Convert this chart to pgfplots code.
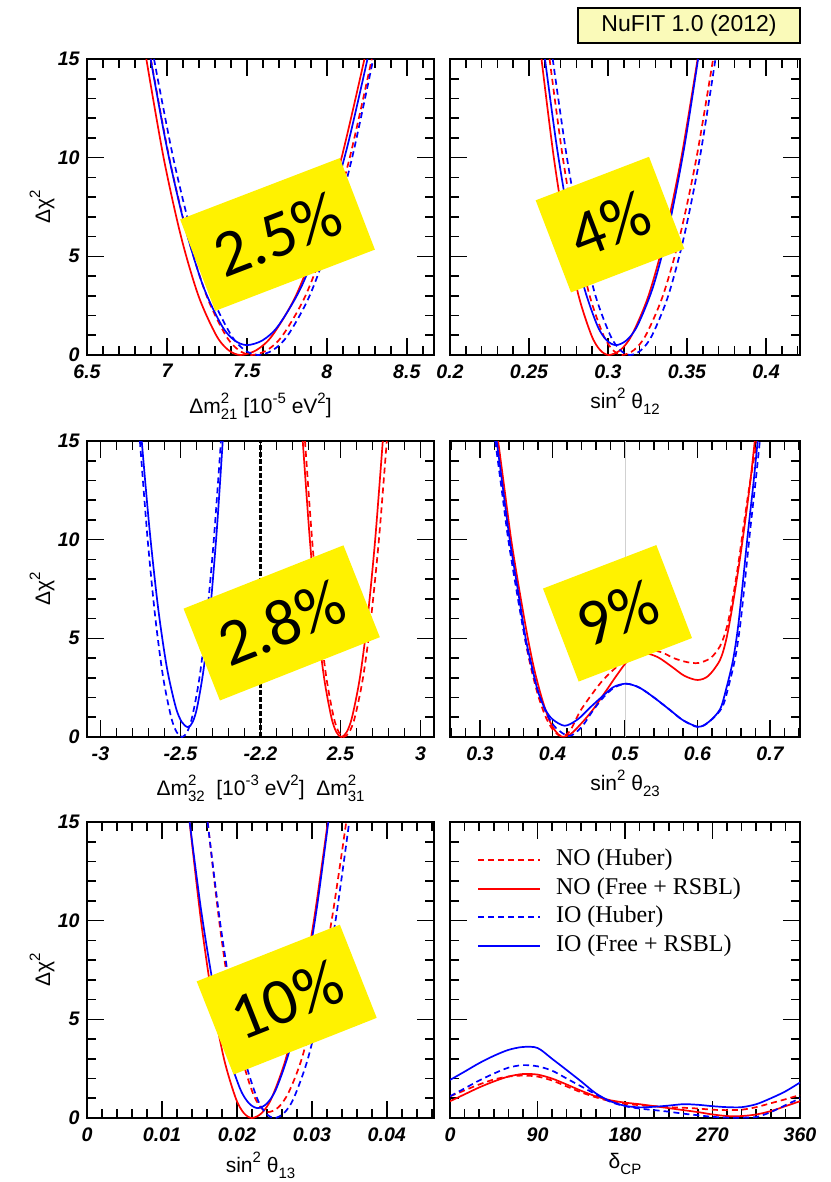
\documentclass[border=0pt]{standalone}
\usepackage{pgfplots}
\pgfplotsset{compat=1.18}
\usepackage{fontspec}
\setmainfont{Liberation Sans}
\newfontfamily\legfont{Liberation Serif}
\newfontfamily\calfont{Carlito}
\definecolor{nured}{RGB}{255,0,0}
\definecolor{nublue}{RGB}{0,0,255}
\definecolor{nufitbg}{RGB}{250,250,185}
\newcommand\scr[1]{{\fontsize{7.5}{8}\selectfont #1}}
\newcommand\sps[1]{\raisebox{0.9ex}{\scr{#1}}}
\newcommand\sbs[1]{\raisebox{-0.6ex}{\scr{#1}}}
\newcommand\supsub[2]{\rlap{\raisebox{0.9ex}{\scr{#1}}}\raisebox{-0.6ex}{\scr{#2}}}
\pgfplotsset{
  nubase/.style={
    scale only axis, height=148pt,
    ymin=0, ymax=15, ytick={0,5,10,15},
    minor ytick={1,2,3,4,6,7,8,9,11,12,13,14},
    tick align=inside,
    major tick length=8.3pt, minor tick length=4.6pt,
    every tick/.style={black, line width=0.8pt},
    axis line style={line width=1.1pt},
    tick label style={font=\fontsize{9.8}{11}\selectfont\bfseries\itshape, /pgf/number format/assume math mode=true},
    xticklabel style={inner sep=0pt, yshift=-4.5pt},
    yticklabel style={inner sep=0pt, xshift=-3.5pt},
    label style={font=\fontsize{10.5}{12}\selectfont},
    y label style={at={(axis description cs:-0.1297,0.5)}, anchor=center},
    scaled x ticks=false, scaled y ticks=false,
    every axis plot/.append style={line width=0.85pt, smooth},
  },
  xlab/.style={x label style={at={(axis description cs:0.5,0)}, anchor=base, yshift=#1}},
  nd/.style={dash pattern=on 3pt off 2pt},
}
\begin{document}
\begin{tikzpicture}
\path[use as bounding box] (0pt,0pt) rectangle (415pt,-591pt);

% ---------- Panel 1 ----------
\begin{axis}[nubase, at={(43.5pt,-177.5pt)}, anchor=south west, width=173.5pt,
  xmin=6.5, xmax=8.67, xtick={6.5,7,7.5,8,8.5}, xticklabels={6.5,7,7.5,8,8.5},
  minor xtick={6.6,6.7,...,8.65}, yticklabels={0,5,10,15},
  ylabel={Δχ\sps{2}}, xlabel={Δm\supsub{2}{21} [10\sps{-5} eV\sps{2}]}, xlab=-29pt]
\addplot[color=nured, nd] coordinates {(6.899,15)(7.014,10)(7.131,6)(7.248,3)(7.367,1)(7.448,0.25)(7.53,0)(7.627,0.25)(7.724,1)(7.866,3)(8.005,6)(8.143,10)(8.281,15)};
\addplot[color=nured] coordinates {(6.871,15)(6.979,10)(7.088,6)(7.197,3)(7.308,1)(7.384,0.25)(7.46,0)(7.56,0.25)(7.66,1)(7.806,3)(7.950,6)(8.092,10)(8.235,15)};
\addplot[color=nublue, nd] coordinates {(6.919,15)(7.039,10)(7.159,6)(7.279,3)(7.402,1)(7.486,0.25)(7.57,0)(7.663,0.25)(7.756,1)(7.892,3)(8.026,6)(8.158,10)(8.290,15)};
\addplot[color=nublue] coordinates {(6.898,15)(7.000,10.5)(7.113,6.5)(7.226,3.5)(7.342,1.5)(7.421,0.75)(7.5,0.5)(7.599,0.75)(7.698,1.5)(7.843,3.5)(7.985,6.5)(8.126,10.5)(8.254,15)};
\end{axis}

% ---------- Panel 2 ----------
\begin{axis}[nubase, at={(225pt,-177.5pt)}, anchor=south west, width=175pt,
  xmin=0.2, xmax=0.4215, xtick={0.2,0.25,0.3,0.35,0.4}, xticklabels={0.2,0.25,0.3,0.35,0.4},
  minor xtick={0.21,0.22,...,0.42}, yticklabels={},
  xlabel={sin\sps{2} θ\sbs{12}}, xlab=-26.5pt]
\addplot[color=nured, nd] coordinates {(0.263,15)(0.2714,10)(0.2799,6)(0.2884,3)(0.2971,1)(0.3031,0.25)(0.309,0)(0.3164,0.25)(0.3239,1)(0.3347,3)(0.3454,6)(0.3560,10)(0.3665,15)};
\addplot[color=nured] coordinates {(0.2579,15)(0.2657,10)(0.2736,6)(0.2814,3)(0.2895,1)(0.2950,0.25)(0.3005,0)(0.3078,0.25)(0.3150,1)(0.3256,3)(0.3360,6)(0.3464,10)(0.3567,15)};
\addplot[color=nublue, nd] coordinates {(0.265,15)(0.274,10)(0.283,6)(0.2921,3)(0.3014,1)(0.3077,0.25)(0.314,0)(0.3210,0.25)(0.3279,1)(0.3381,3)(0.3481,6)(0.3581,10)(0.368,15)};
\addplot[color=nublue] coordinates {(0.2601,15)(0.2677,10.5)(0.2761,6.5)(0.2846,3.5)(0.2932,1.5)(0.2991,0.75)(0.305,0.5)(0.3118,0.75)(0.3187,1.5)(0.3287,3.5)(0.3385,6.5)(0.3482,10.5)(0.3570,15)};
\end{axis}

% ---------- Panel 3 ----------
\begin{axis}[nubase, at={(43.5pt,-368.5pt)}, anchor=south west, width=173.5pt,
  xmin=-1.084, xmax=1.084, xtick={-1,-0.5,0,0.5,1}, xticklabels={-3,-2.5,-2.2,2.5,3},
  minor xtick={-1.0,-0.9,...,1.01}, yticklabels={0,5,10,15},
  ylabel={Δχ\sps{2}}, xlabel={Δm\supsub{2}{32}\ \ [10\sps{-3} eV\sps{2}]\ \ Δm\supsub{2}{31}}, xlab=-29pt]
\addplot[black, line width=1.8pt, dash pattern=on 2.5pt off 1pt, sharp plot] coordinates {(0,0)(0,15)};
\addplot[color=nured, nd, x filter/.expression={x-2}] coordinates {(2.278,15)(2.3224,10)(2.3669,6)(2.4117,3)(2.4575,1)(2.4888,0.25)(2.52,0)(2.5548,0.25)(2.5895,1)(2.6404,3)(2.6902,6)(2.7398,10)(2.789,15)};
\addplot[color=nured, x filter/.expression={x-2}] coordinates {(2.264,15)(2.3083,10)(2.3527,6)(2.3973,3)(2.4428,1)(2.4739,0.25)(2.505,0)(2.5385,0.25)(2.5719,1)(2.6209,3)(2.6688,6)(2.7165,10)(2.764,15)};
\addplot[color=nublue, nd, x filter/.expression={x+2}] coordinates {(-2.7534,15)(-2.705,10)(-2.6565,6)(-2.6078,3)(-2.558,1)(-2.524,0.25)(-2.49,0)(-2.4587,0.25)(-2.4273,1)(-2.3814,3)(-2.3364,6)(-2.2917,10)(-2.2472,15)};
\addplot[color=nublue, x filter/.expression={x+2}] coordinates {(-2.742,15)(-2.693,10.5)(-2.639,6.5)(-2.5845,3.5)(-2.529,1.5)(-2.491,0.75)(-2.453,0.5)(-2.4245,0.75)(-2.396,1.5)(-2.3543,3.5)(-2.3134,6.5)(-2.2728,10.5)(-2.236,15)};
\end{axis}

% ---------- Panel 4 ----------
\begin{axis}[nubase, at={(225pt,-368.5pt)}, anchor=south west, width=175pt,
  xmin=0.2586, xmax=0.7414, xtick={0.3,0.4,0.5,0.6,0.7}, xticklabels={0.3,0.4,0.5,0.6,0.7},
  minor xtick={0.26,0.28,...,0.741}, yticklabels={},
  xlabel={sin\sps{2} θ\sbs{23}}, xlab=-26.5pt]
\addplot[black!18, line width=0.5pt, sharp plot] coordinates {(0.5,0)(0.5,15)};
\addplot[color=nured, nd] coordinates {(0.322,15)(0.331,12.5)(0.340,10)(0.351,7.5)(0.362,5)(0.371,3.4)(0.381,2.0)(0.392,0.9)(0.403,0.25)(0.413,0.05)(0.424,0.3)(0.438,1.3)(0.455,2.2)(0.470,2.9)(0.490,3.6)(0.510,4.1)(0.530,4.4)(0.550,4.3)(0.567,4.0)(0.585,3.8)(0.601,3.75)(0.618,4.0)(0.631,4.6)(0.640,5.5)(0.648,6.9)(0.656,8.7)(0.664,10.8)(0.672,12.8)(0.682,15)};
\addplot[color=nured] coordinates {(0.325,15)(0.334,12.5)(0.343,10)(0.354,7.5)(0.366,5)(0.375,3.4)(0.385,2.0)(0.395,0.9)(0.404,0.3)(0.413,0.02)(0.425,0.15)(0.440,0.7)(0.455,1.35)(0.475,2.4)(0.490,3.2)(0.505,3.9)(0.525,4.25)(0.545,4.05)(0.565,3.55)(0.582,3.1)(0.600,2.89)(0.615,3.1)(0.631,3.9)(0.640,5.0)(0.649,6.8)(0.658,8.9)(0.666,11.0)(0.673,13.0)(0.679,15)};
\addplot[color=nublue, nd] coordinates {(0.321,15)(0.330,12.5)(0.339,10)(0.350,7.5)(0.362,5)(0.372,3.4)(0.382,2.1)(0.393,1.1)(0.405,0.45)(0.423,0.05)(0.440,0.5)(0.455,1.3)(0.470,2.0)(0.485,2.5)(0.502,2.7)(0.520,2.5)(0.540,2.0)(0.562,1.37)(0.580,0.85)(0.601,0.5)(0.617,0.8)(0.634,1.5)(0.643,2.6)(0.652,4.0)(0.659,5.7)(0.666,8.1)(0.673,10.6)(0.680,12.9)(0.686,15)};
\addplot[color=nublue] coordinates {(0.323,15)(0.332,12.5)(0.341,10)(0.352,7.5)(0.363,5)(0.372,3.5)(0.380,2.3)(0.390,1.4)(0.400,0.9)(0.417,0.57)(0.435,0.9)(0.452,1.5)(0.470,2.1)(0.485,2.55)(0.502,2.7)(0.520,2.5)(0.540,2.0)(0.562,1.37)(0.580,0.85)(0.601,0.52)(0.615,0.75)(0.631,1.4)(0.640,2.5)(0.649,3.9)(0.656,5.6)(0.663,8.0)(0.670,10.5)(0.677,12.8)(0.683,15)};
\end{axis}

% ---------- Panel 5 ----------
\begin{axis}[nubase, at={(43.5pt,-559pt)}, anchor=south west, width=173.5pt,
  xmin=0, xmax=0.0463, xtick={0,0.01,0.02,0.03,0.04}, xticklabels={0,0.01,0.02,0.03,0.04},
  minor xtick={0.002,0.004,...,0.0461}, yticklabels={0,5,10,15},
  ylabel={Δχ\sps{2}}, xlabel={sin\sps{2} θ\sbs{13}}, xlab=-27pt]
\addplot[color=nured, nd] coordinates {(0.01611,15)(0.01763,10)(0.01916,6)(0.02073,3)(0.02209,1.3)(0.02315,0.55)(0.0242,0.3)(0.02556,0.55)(0.02691,1.3)(0.02865,3)(0.03067,6)(0.03264,10)(0.03459,15)};
\addplot[color=nured] coordinates {(0.01369,15)(0.01521,10)(0.01674,6)(0.01828,3)(0.01985,1)(0.02093,0.25)(0.0220,0)(0.02331,0.25)(0.02462,1)(0.02653,3)(0.02841,6)(0.03027,10)(0.03213,15)};
\addplot[color=nublue, nd] coordinates {(0.01609,15)(0.01773,10)(0.01937,6)(0.02102,3)(0.0227,1)(0.02385,0.25)(0.025,0)(0.02629,0.25)(0.02758,1)(0.02947,3)(0.03132,6)(0.03316,10)(0.03499,15)};
\addplot[color=nublue] coordinates {(0.0137,15)(0.01524,10.5)(0.01695,6.5)(0.01866,3.5)(0.02041,1.5)(0.02161,0.75)(0.0228,0.5)(0.02404,0.75)(0.02527,1.5)(0.02708,3.5)(0.02885,6.5)(0.03061,10.5)(0.0322,15)};
\end{axis}

% ---------- Panel 6 ----------
\begin{axis}[nubase, at={(225pt,-559pt)}, anchor=south west, width=175pt,
  xmin=0, xmax=360, xtick={0,90,180,270,360}, xticklabels={0,90,180,270,360},
  minor xtick={15,30,...,345}, yticklabels={},
  xlabel={δ\sbs{CP}}, xlab=-25pt]
\addplot[color=nured, nd] coordinates {(0,1.1)(15,1.4)(30,1.7)(45,1.95)(60,2.1)(75,2.15)(90,2.1)(105,1.9)(120,1.6)(135,1.3)(150,1.05)(165,0.85)(180,0.72)(195,0.65)(210,0.6)(225,0.55)(240,0.52)(255,0.48)(270,0.42)(285,0.4)(300,0.42)(315,0.55)(330,0.75)(345,0.95)(360,1.17)};
\addplot[color=nured] coordinates {(0,0.85)(15,1.2)(30,1.55)(45,1.85)(60,2.1)(75,2.23)(90,2.2)(105,2.0)(120,1.7)(135,1.38)(150,1.1)(165,0.9)(180,0.78)(195,0.7)(210,0.6)(225,0.5)(240,0.4)(255,0.3)(270,0.18)(285,0.1)(300,0.1)(315,0.18)(330,0.35)(345,0.6)(360,0.85)};
\addplot[color=nublue, nd] coordinates {(0,1.1)(15,1.5)(30,1.9)(45,2.25)(60,2.55)(75,2.68)(90,2.62)(105,2.4)(120,2.0)(135,1.6)(150,1.2)(165,0.82)(180,0.6)(195,0.48)(210,0.4)(225,0.32)(240,0.22)(255,0.14)(270,0.06)(285,0.02)(300,0.02)(315,0.05)(330,0.3)(345,0.65)(360,1.0)};
\addplot[color=nublue] coordinates {(0,1.93)(15,2.35)(30,2.78)(45,3.15)(60,3.45)(75,3.6)(90,3.55)(105,3.0)(120,2.43)(135,1.85)(150,1.25)(165,0.85)(180,0.62)(195,0.54)(210,0.57)(225,0.63)(240,0.7)(255,0.67)(270,0.6)(285,0.55)(300,0.55)(315,0.7)(330,1.0)(345,1.35)(360,1.8)};
% legend (drawn by hand, in axis description coordinates)
\draw[nured, line width=0.85pt, dash pattern=on 3pt off 2pt] (axis description cs:0.08,0.8716) -- (axis description cs:0.257,0.8716);
\draw[nured, line width=0.85pt] (axis description cs:0.08,0.7736) -- (axis description cs:0.257,0.7736);
\draw[nublue, line width=0.85pt, dash pattern=on 3pt off 2pt] (axis description cs:0.08,0.680) -- (axis description cs:0.257,0.680);
\draw[nublue, line width=0.85pt] (axis description cs:0.08,0.582) -- (axis description cs:0.257,0.582);
\begin{scope}[every node/.style={anchor=west, inner sep=0pt, font=\legfont\fontsize{12}{14}\selectfont}]
\node at (axis description cs:0.302,0.8716) {NO (Huber)};
\node at (axis description cs:0.302,0.7736) {NO (Free + RSBL)};
\node at (axis description cs:0.302,0.680) {IO (Huber)};
\node at (axis description cs:0.302,0.582) {IO (Free + RSBL)};
\end{scope}
\end{axis}

% ---------- annotations ----------
\tikzset{ybox/.style={fill=yellow, inner sep=0pt, font=\calfont\fontsize{33}{33}\selectfont, text=black}}
\node[ybox, rotate=21, minimum width=85.5pt, minimum height=49pt] at (138.75pt,-117.25pt) {2.5\%};
\node[ybox, rotate=21, minimum width=60.7pt, minimum height=49.3pt] at (305pt,-112.3pt) {4\%};
\node[ybox, rotate=21.6, minimum width=86pt, minimum height=49.4pt] at (140.85pt,-311.45pt) {2.8\%};
\node[ybox, rotate=21, minimum width=60.7pt, minimum height=49.8pt] at (308.75pt,-306.65pt) {9\%};
\node[ybox, rotate=21.6, minimum width=77pt, minimum height=50.1pt] at (143.35pt,-499.8pt) {10\%};

\draw[fill=nufitbg, line width=1pt] (289pt,-4pt) rectangle (400pt,-21.5pt);
\node[font=\fontsize{11.5}{12}\selectfont] at (344.5pt,-12.75pt) {NuFIT 1.0 (2012)};
\end{tikzpicture}
\end{document}
